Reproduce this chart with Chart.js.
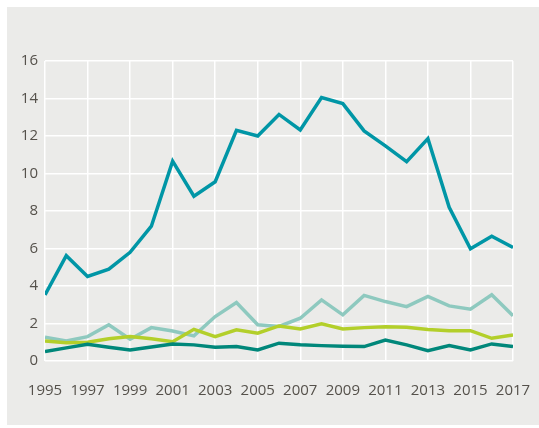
<!DOCTYPE html>
<html>
<head>
<meta charset="utf-8">
<script src="https://cdn.jsdelivr.net/npm/chart.js@4/dist/chart.umd.min.js"></script>
<style>
  html, body { margin: 0; padding: 0; background: #ffffff; }
  #panel { position: absolute; left: 7px; top: 7px; width: 532px; height: 418px; background: #ebebe9; }
  #wrap { position: absolute; left: 0; top: 0; width: 532px; height: 418px; }
</style>
</head>
<body>
<div id="panel"><div id="wrap"><canvas id="c"></canvas></div></div>
<script>
const years = [1995,1996,1997,1998,1999,2000,2001,2002,2003,2004,2005,2006,2007,2008,2009,2010,2011,2012,2013,2014,2015,2016,2017];
const seriesMain = [3.53,5.62,4.51,4.9,5.8,7.19,10.66,8.79,9.56,12.3,12.0,13.15,12.32,14.05,13.73,12.27,11.47,10.63,11.86,8.2,5.99,6.65,6.06];
const seriesLight = [1.27,1.07,1.3,1.93,1.16,1.78,1.6,1.34,2.37,3.12,1.93,1.84,2.28,3.26,2.46,3.5,3.17,2.9,3.44,2.94,2.76,3.53,2.41];
const seriesLime = [1.07,0.98,1.0,1.19,1.3,1.19,1.03,1.69,1.3,1.66,1.48,1.87,1.71,1.98,1.71,1.78,1.82,1.8,1.68,1.62,1.62,1.21,1.39];
const seriesDark = [0.5,0.7,0.89,0.73,0.59,0.75,0.91,0.86,0.73,0.77,0.59,0.95,0.87,0.82,0.79,0.77,1.12,0.86,0.55,0.82,0.59,0.91,0.77];
const yTicks = [0,2,4,6,8,10,12,14,16];

function pts(arr) { return arr.map((v, i) => ({ x: years[i], y: v })); }
function ds(arr, color) {
  return { data: pts(arr), borderColor: color, borderWidth: 3.5, pointRadius: 0, tension: 0, fill: false, borderCapStyle: 'butt', borderJoinStyle: 'miter' };
}

new Chart(document.getElementById('c'), {
  type: 'line',
  data: {
    datasets: [
      ds(seriesDark, '#00877a'),
      ds(seriesLime, '#b3cf2a'),
      ds(seriesLight, '#8ec9bf'),
      ds(seriesMain, '#0096a6')
    ]
  },
  options: {
    responsive: true,
    maintainAspectRatio: false,
    animation: false,
    events: [],
    layout: { padding: { top: 54, right: 26, left: 0, bottom: 0 } },
    plugins: { legend: { display: false }, tooltip: { enabled: false } },
    scales: {
      x: {
        type: 'linear',
        min: years[0],
        max: years[years.length - 1],
        afterBuildTicks: (s) => { s.ticks = years.filter((y, i) => i % 2 === 0).map(v => ({ value: v })); },
        ticks: { callback: (v) => String(v), color: '#55514b', font: { family: 'Open Sans', size: 15 }, padding: 0, maxRotation: 0, autoSkip: false },
        grid: { color: '#ffffff', lineWidth: 1.5, drawTicks: true, tickLength: 21, tickColor: 'rgba(0,0,0,0)' },
        border: { display: false },
        afterFit: (s) => { s.height = 64; }
      },
      y: {
        min: 0,
        max: 16,
        afterBuildTicks: (s) => { s.ticks = yTicks.map(v => ({ value: v })); },
        ticks: { color: '#55514b', font: { family: 'Open Sans', size: 15 }, padding: 7 },
        grid: { color: '#ffffff', lineWidth: 1.5, drawTicks: false },
        border: { display: false },
        afterFit: (s) => { s.width = 38; }
      }
    }
  }
});
</script>
</body>
</html>
